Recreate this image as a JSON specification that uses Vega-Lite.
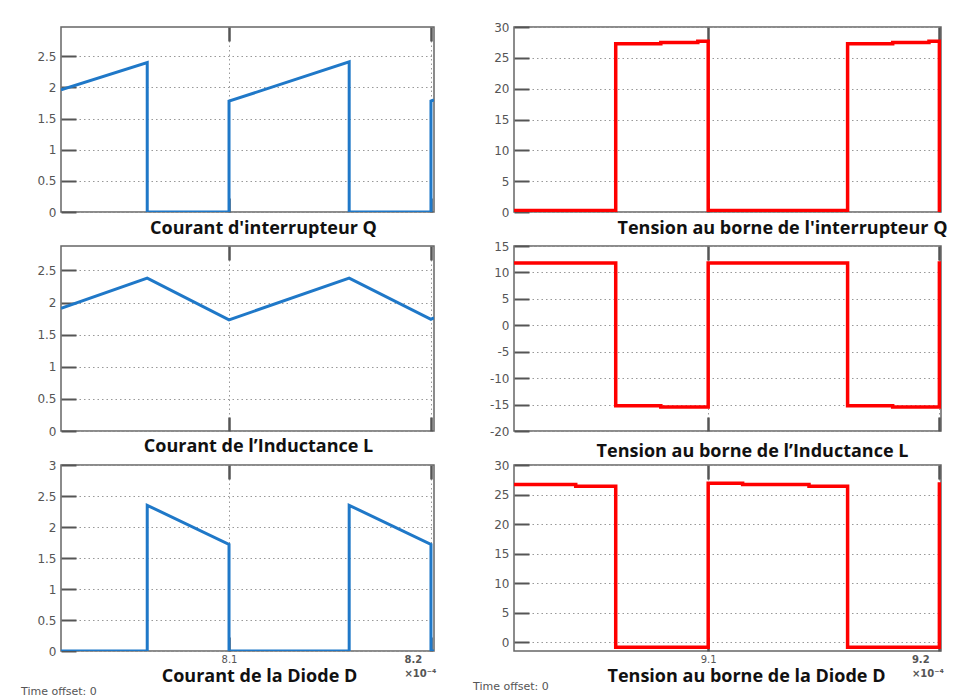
{
  "$schema": "https://vega.github.io/schema/vega-lite/v6.json",
  "background": "white",
  "padding": {"left": 20, "top": 20, "right": 0, "bottom": 0},
  "datasets": {
    "iq": [
      {"i": 0, "t": 8.0168, "v": 1.96}, {"i": 1, "t": 8.0595, "v": 2.40}, {"i": 2, "t": 8.0595, "v": 0},
      {"i": 3, "t": 8.1, "v": 0}, {"i": 4, "t": 8.1, "v": 1.78}, {"i": 5, "t": 8.1595, "v": 2.41},
      {"i": 6, "t": 8.1595, "v": 0}, {"i": 7, "t": 8.2, "v": 0}, {"i": 8, "t": 8.2, "v": 1.78},
      {"i": 9, "t": 8.2015, "v": 1.80}
    ],
    "il": [
      {"i": 0, "t": 8.0168, "v": 1.91}, {"i": 1, "t": 8.0595, "v": 2.38}, {"i": 2, "t": 8.1, "v": 1.73},
      {"i": 3, "t": 8.1595, "v": 2.38}, {"i": 4, "t": 8.2, "v": 1.74}, {"i": 5, "t": 8.2015, "v": 1.76}
    ],
    "id": [
      {"i": 0, "t": 8.0168, "v": 0}, {"i": 1, "t": 8.0595, "v": 0}, {"i": 2, "t": 8.0595, "v": 2.35},
      {"i": 3, "t": 8.1, "v": 1.72}, {"i": 4, "t": 8.1, "v": 0}, {"i": 5, "t": 8.1595, "v": 0},
      {"i": 6, "t": 8.1595, "v": 2.35}, {"i": 7, "t": 8.2, "v": 1.72}, {"i": 8, "t": 8.2, "v": 0},
      {"i": 9, "t": 8.2015, "v": 0}
    ],
    "vq": [
      {"i": 0, "t": 9.016, "v": 0.25}, {"i": 1, "t": 9.06, "v": 0.25}, {"i": 2, "t": 9.06, "v": 27.3},
      {"i": 3, "t": 9.0795, "v": 27.3}, {"i": 4, "t": 9.0795, "v": 27.5}, {"i": 5, "t": 9.0955, "v": 27.5},
      {"i": 6, "t": 9.0955, "v": 27.7}, {"i": 7, "t": 9.1, "v": 27.7}, {"i": 8, "t": 9.1, "v": 0.25},
      {"i": 9, "t": 9.1603, "v": 0.25}, {"i": 10, "t": 9.1603, "v": 27.3}, {"i": 11, "t": 9.1798, "v": 27.3},
      {"i": 12, "t": 9.1798, "v": 27.5}, {"i": 13, "t": 9.1955, "v": 27.5}, {"i": 14, "t": 9.1955, "v": 27.7},
      {"i": 15, "t": 9.2, "v": 27.7}, {"i": 16, "t": 9.2, "v": 0.25}, {"i": 17, "t": 9.2007, "v": 0.25}
    ],
    "vl": [
      {"i": 0, "t": 9.016, "v": 11.8}, {"i": 1, "t": 9.06, "v": 11.8}, {"i": 2, "t": 9.06, "v": -15.2},
      {"i": 3, "t": 9.0795, "v": -15.2}, {"i": 4, "t": 9.0795, "v": -15.45}, {"i": 5, "t": 9.1, "v": -15.45},
      {"i": 6, "t": 9.1, "v": 11.8}, {"i": 7, "t": 9.1603, "v": 11.8}, {"i": 8, "t": 9.1603, "v": -15.2},
      {"i": 9, "t": 9.1798, "v": -15.2}, {"i": 10, "t": 9.1798, "v": -15.45}, {"i": 11, "t": 9.2, "v": -15.45},
      {"i": 12, "t": 9.2, "v": 11.8}, {"i": 13, "t": 9.2007, "v": 11.8}
    ],
    "vd": [
      {"i": 0, "t": 9.016, "v": 26.7}, {"i": 1, "t": 9.0427, "v": 26.7}, {"i": 2, "t": 9.0427, "v": 26.4},
      {"i": 3, "t": 9.06, "v": 26.4}, {"i": 4, "t": 9.06, "v": -0.85}, {"i": 5, "t": 9.1, "v": -0.85},
      {"i": 6, "t": 9.1, "v": 26.9}, {"i": 7, "t": 9.1149, "v": 26.9}, {"i": 8, "t": 9.1149, "v": 26.7},
      {"i": 9, "t": 9.1436, "v": 26.7}, {"i": 10, "t": 9.1436, "v": 26.4}, {"i": 11, "t": 9.1603, "v": 26.4},
      {"i": 12, "t": 9.1603, "v": -0.85}, {"i": 13, "t": 9.2, "v": -0.85}, {"i": 14, "t": 9.2, "v": 26.8},
      {"i": 15, "t": 9.2007, "v": 26.8}
    ]
  },
  "columns": 2,
  "bounds": "flush",
  "align": "each",
  "spacing": {"row": 34, "column": 80},
  "concat": [
    {
      "width": 373, "height": 185,
      "data": {"name": "iq"},
      "layer": [
        {"mark": {"type": "line", "color": "#1f78c8", "strokeWidth": 3, "clip": true},
         "encoding": {
           "x": {"field": "t", "type": "quantitative", "scale": {"domain": [8.0168, 8.2015], "nice": false, "zero": false},
                 "axis": {"orient": "bottom", "values": [8.1, 8.2], "labels": false, "grid": true, "tickSize": -14, "tickWidth": 2.5,
                          "title": "Courant d'interrupteur Q", "titleX": 202, "titleY": 16, "titleBaseline": "middle", "titleAlign": "center"}},
           "y": {"field": "v", "type": "quantitative", "scale": {"domain": [0, 2.97], "nice": false, "zero": false},
                 "axis": {"values": [0, 0.5, 1, 1.5, 2, 2.5], "format": "~g", "grid": true, "tickSize": -15, "tickWidth": 2, "labelPadding": 20, "title": null, "labelFlush": false}},
           "order": {"field": "i", "type": "quantitative"}
         }},
        {"mark": {"type": "line", "opacity": 0},
         "encoding": {
           "x": {"field": "t", "type": "quantitative", "scale": {"domain": [8.0168, 8.2015], "nice": false, "zero": false},
                 "axis": {"orient": "top", "values": [8.1, 8.2], "labels": false, "grid": false, "tickSize": -14, "tickWidth": 2.5, "title": null}},
           "y": {"field": "v", "type": "quantitative", "scale": {"domain": [0, 2.97], "nice": false, "zero": false},
                 "axis": {"values": [0, 0.5, 1, 1.5, 2, 2.5], "format": "~g", "grid": true, "tickSize": -15, "tickWidth": 2, "labelPadding": 20, "title": null, "labelFlush": false}},
           "order": {"field": "i", "type": "quantitative"}
         }}
      ],
      "resolve": {"axis": {"x": "independent"}}
    },
    {
      "width": 427, "height": 185,
      "data": {"name": "vq"},
      "layer": [
        {"mark": {"type": "line", "color": "#ff0000", "strokeWidth": 3.5, "clip": true},
         "encoding": {
           "x": {"field": "t", "type": "quantitative", "scale": {"domain": [9.016, 9.2007], "nice": false, "zero": false},
                 "axis": {"orient": "bottom", "values": [9.1, 9.2], "labels": false, "grid": true, "tickSize": -14, "tickWidth": 2.5,
                          "title": "Tension au borne de l'interrupteur Q", "titleX": 268, "titleY": 16, "titleBaseline": "middle", "titleAlign": "center"}},
           "y": {"field": "v", "type": "quantitative", "scale": {"domain": [0, 30], "nice": false, "zero": false},
                 "axis": {"values": [0, 5, 10, 15, 20, 25, 30], "format": "~g", "grid": true, "tickSize": -15, "tickWidth": 2, "labelPadding": 20, "title": null, "labelFlush": false}},
           "order": {"field": "i", "type": "quantitative"}
         }},
        {"mark": {"type": "line", "opacity": 0},
         "encoding": {
           "x": {"field": "t", "type": "quantitative", "scale": {"domain": [9.016, 9.2007], "nice": false, "zero": false},
                 "axis": {"orient": "top", "values": [9.1, 9.2], "labels": false, "grid": false, "tickSize": -14, "tickWidth": 2.5, "title": null}},
           "y": {"field": "v", "type": "quantitative", "scale": {"domain": [0, 30], "nice": false, "zero": false},
                 "axis": {"values": [0, 5, 10, 15, 20, 25, 30], "format": "~g", "grid": true, "tickSize": -15, "tickWidth": 2, "labelPadding": 20, "title": null, "labelFlush": false}},
           "order": {"field": "i", "type": "quantitative"}
         }}
      ],
      "resolve": {"axis": {"x": "independent"}}
    },
    {
      "width": 373, "height": 185,
      "data": {"name": "il"},
      "layer": [
        {"mark": {"type": "line", "color": "#1f78c8", "strokeWidth": 3, "clip": true},
         "encoding": {
           "x": {"field": "t", "type": "quantitative", "scale": {"domain": [8.0168, 8.2015], "nice": false, "zero": false},
                 "axis": {"orient": "bottom", "values": [8.1, 8.2], "labels": false, "grid": true, "tickSize": -14, "tickWidth": 2.5,
                          "title": "Courant de l’Inductance L", "titleX": 197, "titleY": 15, "titleBaseline": "middle", "titleAlign": "center"}},
           "y": {"field": "v", "type": "quantitative", "scale": {"domain": [0, 2.88], "nice": false, "zero": false},
                 "axis": {"values": [0, 0.5, 1, 1.5, 2, 2.5], "format": "~g", "grid": true, "tickSize": -15, "tickWidth": 2, "labelPadding": 20, "title": null, "labelFlush": false}},
           "order": {"field": "i", "type": "quantitative"}
         }},
        {"mark": {"type": "line", "opacity": 0},
         "encoding": {
           "x": {"field": "t", "type": "quantitative", "scale": {"domain": [8.0168, 8.2015], "nice": false, "zero": false},
                 "axis": {"orient": "top", "values": [8.1, 8.2], "labels": false, "grid": false, "tickSize": -14, "tickWidth": 2.5, "title": null}},
           "y": {"field": "v", "type": "quantitative", "scale": {"domain": [0, 2.88], "nice": false, "zero": false},
                 "axis": {"values": [0, 0.5, 1, 1.5, 2, 2.5], "format": "~g", "grid": true, "tickSize": -15, "tickWidth": 2, "labelPadding": 20, "title": null, "labelFlush": false}},
           "order": {"field": "i", "type": "quantitative"}
         }}
      ],
      "resolve": {"axis": {"x": "independent"}}
    },
    {
      "width": 427, "height": 185,
      "data": {"name": "vl"},
      "layer": [
        {"mark": {"type": "line", "color": "#ff0000", "strokeWidth": 3.5, "clip": true},
         "encoding": {
           "x": {"field": "t", "type": "quantitative", "scale": {"domain": [9.016, 9.2007], "nice": false, "zero": false},
                 "axis": {"orient": "bottom", "values": [9.1, 9.2], "labels": false, "grid": true, "tickSize": -14, "tickWidth": 2.5,
                          "title": "Tension au borne de l’Inductance L", "titleX": 238, "titleY": 20, "titleBaseline": "middle", "titleAlign": "center"}},
           "y": {"field": "v", "type": "quantitative", "scale": {"domain": [-20, 15], "nice": false, "zero": false},
                 "axis": {"values": [-20, -15, -10, -5, 0, 5, 10, 15], "labelExpr": "toString(datum.value)", "grid": true, "tickSize": -15, "tickWidth": 2, "labelPadding": 20, "title": null, "labelFlush": false}},
           "order": {"field": "i", "type": "quantitative"}
         }},
        {"mark": {"type": "line", "opacity": 0},
         "encoding": {
           "x": {"field": "t", "type": "quantitative", "scale": {"domain": [9.016, 9.2007], "nice": false, "zero": false},
                 "axis": {"orient": "top", "values": [9.1, 9.2], "labels": false, "grid": false, "tickSize": -14, "tickWidth": 2.5, "title": null}},
           "y": {"field": "v", "type": "quantitative", "scale": {"domain": [-20, 15], "nice": false, "zero": false},
                 "axis": {"values": [-20, -15, -10, -5, 0, 5, 10, 15], "labelExpr": "toString(datum.value)", "grid": true, "tickSize": -15, "tickWidth": 2, "labelPadding": 20, "title": null, "labelFlush": false}},
           "order": {"field": "i", "type": "quantitative"}
         }}
      ],
      "resolve": {"axis": {"x": "independent"}}
    },
    {
      "width": 373, "height": 186,
      "data": {"name": "id"},
      "title": {"text": "Time offset:  0", "orient": "bottom", "anchor": "start", "frame": "group", "dx": -40, "offset": 0, "fontSize": 11, "fontWeight": "normal", "color": "#555", "font": "DejaVu Sans"},
      "layer": [
        {"mark": {"type": "line", "color": "#1f78c8", "strokeWidth": 3, "clip": true},
         "encoding": {
           "x": {"field": "t", "type": "quantitative", "scale": {"domain": [8.0168, 8.2015], "nice": false, "zero": false},
                 "axis": {"orient": "bottom", "values": [8.1, 8.2], "format": "~g", "labels": true, "grid": true, "tickSize": -14, "tickWidth": 2.5,
                          "labelPadding": 17, "labelFlush": false, "labelOverlap": false, "labelFontSize": 10, "labelLineHeight": 14,
                          "labelExpr": "datum.value > 8.15 ? ['8.2', '×10⁻⁴'] : datum.label",
                          "labelAlign": {"condition": {"test": "datum.value > 8.15", "value": "left"}, "value": "center"},
                          "labelOffset": {"condition": {"test": "datum.value > 8.15", "value": -27}, "value": 0},
                          "labelFontWeight": {"condition": {"test": "datum.value > 8.15", "value": "bold"}, "value": "normal"},
                          "title": "Courant de la Diode D", "titleX": 198, "titleY": 25.5, "titleBaseline": "middle", "titleAlign": "center"}},
           "y": {"field": "v", "type": "quantitative", "scale": {"domain": [0, 3], "nice": false, "zero": false},
                 "axis": {"values": [0, 0.5, 1, 1.5, 2, 2.5, 3], "format": "~g", "grid": true, "tickSize": -15, "tickWidth": 2, "labelPadding": 20, "title": null, "labelFlush": false}},
           "order": {"field": "i", "type": "quantitative"}
         }},
        {"mark": {"type": "line", "opacity": 0},
         "encoding": {
           "x": {"field": "t", "type": "quantitative", "scale": {"domain": [8.0168, 8.2015], "nice": false, "zero": false},
                 "axis": {"orient": "top", "values": [8.1, 8.2], "labels": false, "grid": false, "tickSize": -14, "tickWidth": 2.5, "title": null}},
           "y": {"field": "v", "type": "quantitative", "scale": {"domain": [0, 3], "nice": false, "zero": false},
                 "axis": {"values": [0, 0.5, 1, 1.5, 2, 2.5, 3], "format": "~g", "grid": true, "tickSize": -15, "tickWidth": 2, "labelPadding": 20, "title": null, "labelFlush": false}},
           "order": {"field": "i", "type": "quantitative"}
         }}
      ],
      "resolve": {"axis": {"x": "independent"}}
    },
    {
      "width": 427, "height": 186,
      "data": {"name": "vd"},
      "title": {"text": "Time offset:  0", "orient": "bottom", "anchor": "start", "frame": "group", "dx": -41, "offset": -5, "fontSize": 11, "fontWeight": "normal", "color": "#555", "font": "DejaVu Sans"},
      "layer": [
        {"mark": {"type": "line", "color": "#ff0000", "strokeWidth": 3.5, "clip": true},
         "encoding": {
           "x": {"field": "t", "type": "quantitative", "scale": {"domain": [9.016, 9.2007], "nice": false, "zero": false},
                 "axis": {"orient": "bottom", "values": [9.1, 9.2], "format": "~g", "labels": true, "grid": true, "tickSize": -14, "tickWidth": 2.5,
                          "labelPadding": 17, "labelFlush": false, "labelOverlap": false, "labelFontSize": 10, "labelLineHeight": 14,
                          "labelExpr": "datum.value > 9.15 ? ['9.2', '×10⁻⁴'] : datum.label",
                          "labelAlign": {"condition": {"test": "datum.value > 9.15", "value": "left"}, "value": "center"},
                          "labelOffset": {"condition": {"test": "datum.value > 9.15", "value": -28}, "value": 0},
                          "labelFontWeight": {"condition": {"test": "datum.value > 9.15", "value": "bold"}, "value": "normal"},
                          "title": "Tension au borne de la Diode D", "titleX": 232, "titleY": 25.5, "titleBaseline": "middle", "titleAlign": "center"}},
           "y": {"field": "v", "type": "quantitative", "scale": {"domain": [-1.5, 30], "nice": false, "zero": false},
                 "axis": {"values": [0, 5, 10, 15, 20, 25, 30], "format": "~g", "grid": true, "tickSize": -15, "tickWidth": 2, "labelPadding": 20, "title": null, "labelFlush": false}},
           "order": {"field": "i", "type": "quantitative"}
         }},
        {"mark": {"type": "line", "opacity": 0},
         "encoding": {
           "x": {"field": "t", "type": "quantitative", "scale": {"domain": [9.016, 9.2007], "nice": false, "zero": false},
                 "axis": {"orient": "top", "values": [9.1, 9.2], "labels": false, "grid": false, "tickSize": -14, "tickWidth": 2.5, "title": null}},
           "y": {"field": "v", "type": "quantitative", "scale": {"domain": [-1.5, 30], "nice": false, "zero": false},
                 "axis": {"values": [0, 5, 10, 15, 20, 25, 30], "format": "~g", "grid": true, "tickSize": -15, "tickWidth": 2, "labelPadding": 20, "title": null, "labelFlush": false}},
           "order": {"field": "i", "type": "quantitative"}
         }}
      ],
      "resolve": {"axis": {"x": "independent"}}
    }
  ],
  "config": {
    "view": {"stroke": "#666", "strokeWidth": 1.5},
    "axis": {
      "domain": false,
      "labelFont": "DejaVu Sans", "labelFontSize": 12, "labelColor": "#555",
      "tickColor": "#555",
      "gridColor": "#999", "gridDash": [1.5, 3], "gridWidth": 1,
      "titleFont": "Open Sans", "titleFontSize": 18, "titleFontWeight": "bold", "titleColor": "#111"
    }
  }
}
